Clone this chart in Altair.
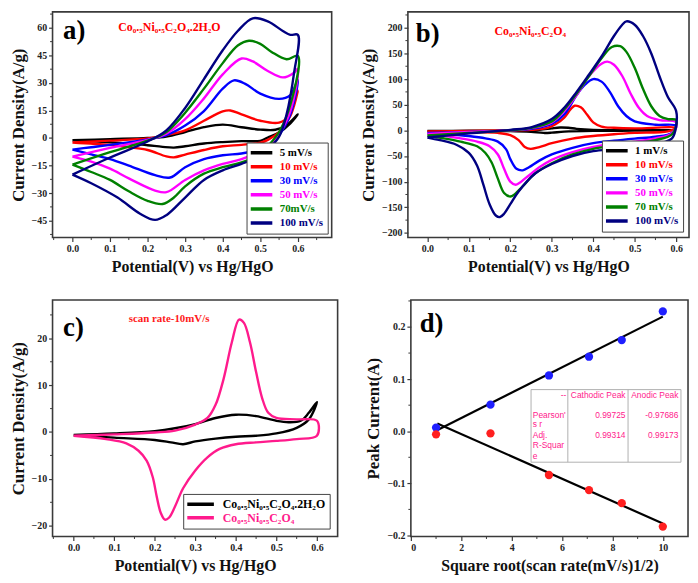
import altair as alt
import pandas as pd

SERIF = "Liberation Serif"
SANS = "Liberation Sans"
FRAME = "#3a3a3a"
PINK = "#ff1a8c"

# ---------------- Panel a : Co0.5Ni0.5C2O4.2H2O ----------------
A_LABELS = ["5 mV/s", "10 mV/s", "30 mV/s", "50 mV/s", "70mV/s", "100 mV/s"]
A_COLORS = ["#000000", "#ff0000", "#0000ff", "#ff00ff", "#008000", "#000080"]

A5_V = [0.00, 0.10, 0.20, 0.25, 0.30, 0.35, 0.40, 0.45, 0.50, 0.54, 0.57, 0.60,
        0.58, 0.55, 0.52, 0.50, 0.45, 0.40, 0.35, 0.30, 0.27, 0.24, 0.20, 0.15, 0.10, 0.00]
A5_I = [-1.2, -0.6, 0.0, 0.8, 3.3, 5.9, 7.3, 5.9, 4.6, 4.5, 7.0, 12.9,
        8.0, 3.0, 0.3, -1.5, -1.7, -2.2, -3.0, -4.5, -5.2, -4.8, -3.9, -2.9, -2.3, -1.2]

A10_V = [0.00, 0.10, 0.20, 0.25, 0.30, 0.35, 0.40, 0.42, 0.45, 0.50, 0.55, 0.58, 0.60,
         0.58, 0.55, 0.52, 0.50, 0.45, 0.40, 0.35, 0.30, 0.27, 0.25, 0.20, 0.15, 0.10, 0.00]
A10_I = [-2.4, -1.4, -0.2, 1.6, 4.2, 9.4, 14.5, 15.0, 12.9, 9.4, 8.4, 12.9, 25.8,
         12.0, 3.3, -1.0, -2.5, -3.7, -4.5, -6.5, -9.0, -10.5, -10.0, -6.5, -5.0, -3.8, -2.4]

A30_V = [0.00, 0.05, 0.10, 0.20, 0.25, 0.30, 0.35, 0.40, 0.43, 0.46, 0.50, 0.55, 0.58, 0.60,
         0.58, 0.55, 0.52, 0.50, 0.45, 0.40, 0.35, 0.30, 0.26, 0.22, 0.15, 0.10, 0.05, 0.00]
A30_I = [-6.3, -5.0, -3.7, -0.7, 1.6, 6.8, 14.7, 26.9, 31.4, 29.5, 24.2, 21.3, 23.4, 31.7,
         12.9, 1.6, -4.5, -6.3, -8.4, -9.4, -11.5, -15.9, -21.5, -20.2, -15.0, -11.5, -8.9, -6.3]

A50_V = [0.00, 0.10, 0.20, 0.25, 0.30, 0.35, 0.40, 0.45, 0.48, 0.52, 0.56, 0.59, 0.60,
         0.58, 0.55, 0.52, 0.50, 0.45, 0.40, 0.35, 0.30, 0.25, 0.22, 0.15, 0.10, 0.05, 0.00]
A50_I = [-10.1, -5.4, -1.0, 2.4, 10.3, 21.6, 34.7, 43.3, 41.7, 36.5, 33.0, 35.6, 37.7,
         14.7, 2.4, -4.5, -7.2, -11.5, -14.1, -17.6, -22.8, -29.5, -28.6, -22.0, -16.7, -12.9, -10.1]

A70_V = [0.00, 0.10, 0.20, 0.25, 0.30, 0.35, 0.40, 0.44, 0.47, 0.50, 0.53, 0.57, 0.60,
         0.58, 0.55, 0.52, 0.50, 0.45, 0.40, 0.35, 0.30, 0.27, 0.24, 0.20, 0.15, 0.10, 0.05, 0.00]
A70_I = [-14.5, -7.7, -1.4, 3.3, 13.8, 26.9, 40.8, 50.4, 53.0, 51.3, 46.9, 42.9, 44.7,
         18.1, 3.3, -4.5, -8.9, -13.3, -15.9, -19.4, -26.3, -32.4, -35.9, -34.2, -29.0, -22.8, -18.5, -14.5]

A100_V = [0.00, 0.10, 0.20, 0.25, 0.30, 0.35, 0.40, 0.44, 0.48, 0.52, 0.56, 0.58, 0.60,
          0.59, 0.57, 0.55, 0.52, 0.50, 0.45, 0.40, 0.35, 0.30, 0.25, 0.22, 0.18, 0.12, 0.05, 0.00]
A100_I = [-19.9, -10.6, -1.9, 4.2, 16.4, 32.1, 47.8, 58.3, 65.2, 63.5, 58.3, 56.2, 56.2,
          35.6, 12.9, 0.7, -6.3, -9.8, -14.1, -17.6, -22.8, -32.4, -42.0, -44.6, -41.2, -32.4, -24.6, -19.9]

# ---------------- Panel b : Co0.5Ni0.5C2O4 ----------------
B_LABELS = ["1 mV/s", "10 mV/s", "30 mV/s", "50 mV/s", "70 mV/s", "100 mV/s"]
B_COLORS = ["#000000", "#ff0000", "#0000ff", "#ff00ff", "#008000", "#000080"]

B1_V = [0.00, 0.10, 0.20, 0.27, 0.30, 0.32, 0.34, 0.36, 0.40, 0.50, 0.60,
        0.50, 0.40, 0.33, 0.30, 0.28, 0.25, 0.20, 0.10, 0.00]
B1_I = [-1.0, -0.8, -0.5, 1.0, 4.0, 5.5, 5.0, 3.0, 1.0, 0.5, 0.5,
        -0.5, -1.0, -2.5, -4.5, -5.0, -3.0, -1.5, -1.0, -1.0]

B10_V = [0.00, 0.10, 0.20, 0.25, 0.29, 0.31, 0.33, 0.345, 0.355, 0.37, 0.385, 0.40, 0.42, 0.45, 0.50, 0.60,
         0.58, 0.50, 0.45, 0.40, 0.35, 0.30, 0.27, 0.249, 0.235, 0.22, 0.20, 0.17, 0.10, 0.00]
B10_I = [-2.0, -1.0, 0.0, 1.0, 5.0, 12.5, 25.0, 40.6, 48.0, 45.0, 31.0, 15.6, 7.5, 5.0, 3.8, 5.0,
         -2.0, -5.0, -7.5, -11.0, -16.0, -25.0, -32.5, -36.0, -32.5, -19.0, -9.4, -5.0, -3.0, -2.0]

B30_V = [0.00, 0.10, 0.20, 0.25, 0.30, 0.33, 0.36, 0.38, 0.40, 0.42, 0.44, 0.46, 0.48, 0.50, 0.55, 0.60,
         0.59, 0.55, 0.50, 0.45, 0.40, 0.35, 0.30, 0.27, 0.245, 0.23, 0.215, 0.20, 0.19, 0.17, 0.14, 0.10, 0.05, 0.00]
B30_I = [-5.0, -3.0, 0.0, 3.0, 12.5, 31.0, 69.0, 89.0, 100.0, 95.0, 75.0, 47.0, 28.0, 17.5, 11.0, 9.0,
         -5.0, -12.5, -16.0, -20.0, -25.0, -34.0, -47.0, -59.0, -72.0, -78.0, -75.0, -56.0, -37.0, -22.0, -15.6, -11.0, -7.5, -5.0]

B50_V = [0.00, 0.10, 0.20, 0.25, 0.30, 0.33, 0.36, 0.39, 0.42, 0.434, 0.45, 0.47, 0.49, 0.51, 0.53, 0.56, 0.60,
         0.59, 0.55, 0.50, 0.45, 0.40, 0.35, 0.30, 0.27, 0.24, 0.213, 0.20, 0.185, 0.17, 0.15, 0.12, 0.08, 0.04, 0.00]
B50_I = [-7.0, -3.0, 0.0, 4.4, 15.6, 37.5, 69.0, 106.0, 130.0, 134.0, 128.0, 106.0, 72.0, 44.0, 28.0, 20.0, 15.6,
         -6.0, -15.6, -22.0, -26.0, -32.5, -42.5, -57.5, -72.0, -91.0, -106.0, -100.0, -75.0, -47.0, -31.0, -22.0, -15.6, -10.6, -7.0]

B70_V = [0.00, 0.10, 0.20, 0.25, 0.30, 0.33, 0.36, 0.39, 0.42, 0.445, 0.465, 0.48, 0.50, 0.52, 0.54, 0.56, 0.58, 0.60,
         0.59, 0.55, 0.50, 0.45, 0.40, 0.35, 0.30, 0.26, 0.23, 0.21, 0.20, 0.185, 0.17, 0.155, 0.14, 0.12, 0.08, 0.04, 0.00]
B70_I = [-10.0, -5.0, 0.0, 5.0, 17.5, 40.6, 72.0, 106.0, 140.6, 162.5, 164.0, 153.0, 122.0, 81.0, 47.0, 28.0, 22.0, 20.0,
         -7.5, -19.0, -25.0, -30.0, -36.0, -47.0, -64.0, -84.0, -109.0, -125.0, -129.0, -122.0, -94.0, -62.5, -44.0, -31.0, -22.0, -15.6, -10.0]

B100_V = [0.00, 0.10, 0.20, 0.25, 0.30, 0.33, 0.36, 0.39, 0.42, 0.45, 0.47, 0.48, 0.50, 0.52, 0.54, 0.56, 0.58, 0.60,
          0.598, 0.59, 0.55, 0.50, 0.45, 0.40, 0.35, 0.30, 0.26, 0.22, 0.20, 0.185, 0.175, 0.165, 0.15, 0.135, 0.12, 0.10, 0.07, 0.03, 0.00]
B100_I = [-14.0, -6.0, 1.0, 6.0, 22.0, 44.0, 75.0, 109.0, 144.0, 184.0, 206.0, 212.5, 206.0, 184.0, 150.0, 105.0, 65.0, 37.5,
          0.0, -15.6, -28.0, -31.0, -36.0, -40.6, -50.0, -65.6, -84.0, -119.0, -144.0, -162.5, -169.0, -166.0, -144.0, -106.0, -69.0, -44.0, -28.0, -19.0, -14.0]

# ---------------- Panel c : comparison at 10 mV/s ----------------
C_LABELS = ["Co\u2080.\u2085Ni\u2080.\u2085C\u2082O\u2084.2H\u2082O", "Co\u2080.\u2085Ni\u2080.\u2085C\u2082O\u2084"]
C_COLORS = ["#000000", PINK]

CH_V = [0.00, 0.10, 0.20, 0.25, 0.30, 0.35, 0.40, 0.45, 0.50, 0.53, 0.56, 0.58, 0.60,
        0.58, 0.55, 0.50, 0.45, 0.40, 0.35, 0.30, 0.27, 0.24, 0.20, 0.10, 0.00]
CH_I = [-0.6, -0.3, 0.2, 0.8, 1.7, 3.0, 3.7, 3.4, 2.4, 2.1, 2.4, 4.1, 6.4,
        2.7, 0.9, -0.3, -0.8, -1.0, -1.4, -2.0, -2.6, -2.2, -1.7, -1.2, -0.7]

CA_V = [0.00, 0.10, 0.20, 0.25, 0.30, 0.33, 0.35, 0.37, 0.39, 0.408, 0.42, 0.435, 0.45, 0.465, 0.48, 0.50, 0.55, 0.60,
        0.60, 0.55, 0.50, 0.45, 0.40, 0.36, 0.33, 0.30, 0.27, 0.25, 0.235, 0.225, 0.215, 0.205, 0.195, 0.18, 0.16, 0.13, 0.08, 0.00]
CA_I = [-0.8, -0.5, -0.1, 0.3, 1.6, 3.0, 5.8, 11.4, 19.1, 24.0, 23.3, 19.1, 12.8, 7.2, 4.1, 3.0, 2.7, 2.4,
        -0.8, -1.5, -1.9, -2.2, -2.6, -3.6, -5.4, -8.2, -12.0, -15.9, -18.3, -18.7, -17.3, -13.8, -9.6, -6.1, -4.0, -2.4, -1.5, -0.8]

# ---------------- Panel d : peak current vs sqrt(scan rate) ----------------
D_X = [1.0, 3.16, 5.48, 7.07, 8.37, 10.0]
D_BLUE = [0.007, 0.051, 0.107, 0.143, 0.175, 0.230]
D_RED = [-0.006, -0.004, -0.084, -0.113, -0.138, -0.183]
FIT_BLUE_X = [1.0, 10.0]
FIT_BLUE_Y = [0.001, 0.220]
FIT_RED_X = [1.05, 10.0]
FIT_RED_Y = [0.015, -0.177]

TABLE_HEADER = ["--", "Cathodic Peak", "Anodic Peak"]
TABLE_ROW_NAMES = [["Pearson'", "s r"], ["Adj.", "R-Squar", "e"]]
TABLE_VALUES = [["0.99725", "-0.97686"], ["0.99314", "0.99173"]]

# tick values (major / minor)
V_TICKS = [0, 0.1, 0.2, 0.3, 0.4, 0.5, 0.6]
A_Y_TICKS = [-45, -30, -15, 0, 15, 30, 45, 60]
B_Y_TICKS = [-200, -150, -100, -50, 0, 50, 100, 150, 200]
C_Y_TICKS = [-20, -10, 0, 10, 20]
D_X_TICKS = [0, 2, 4, 6, 8, 10]
D_Y_TICKS = [-0.2, -0.1, 0.0, 0.1, 0.2]
A_X_MINOR = [-0.05, 0.05, 0.15, 0.25, 0.35, 0.45, 0.55, 0.65]
A_Y_MINOR = [-52.5, -37.5, -22.5, -7.5, 7.5, 22.5, 37.5, 52.5, 67.5]
B_X_MINOR = [0.05, 0.15, 0.25, 0.35, 0.45, 0.55]
B_Y_MINOR = [-175, -125, -75, -25, 25, 75, 125, 175, 225]
C_X_MINOR = [-0.05, 0.05, 0.15, 0.25, 0.35, 0.45, 0.55]
C_Y_MINOR = [-15, -5, 5, 15, 25]
D_X_MINOR = [1, 3, 5, 7, 9]
D_Y_MINOR = [-0.15, -0.05, 0.05, 0.15, 0.25]

LEGEND_LINE = "M-3,0H3"   # long, flat legend swatch


def axis(title, values, fmt, title_pad, title_size=16):
    return alt.Axis(title=title, values=values, tickCount=len(values) + 2, format=fmt,
                    grid=False, domain=False,
                    tickColor=FRAME, tickSize=4, tickWidth=1.2, labelOverlap=False,
                    labelFont=SERIF, labelFontWeight="bold", labelFontSize=10,
                    labelColor="#222222", labelPadding=2,
                    titleFont=SERIF, titleFontWeight="bold", titleFontSize=title_size,
                    titleColor="#111111", titlePadding=title_pad)


def minor_ticks(xf, yf, xvals, yvals, h):
    mx = alt.Chart(pd.DataFrame({xf: xvals})).mark_rule(color=FRAME, strokeWidth=1).encode(
        x=f"{xf}:Q", y=alt.value(h), y2=alt.value(h + 2.5))
    my = alt.Chart(pd.DataFrame({yf: yvals})).mark_rule(color=FRAME, strokeWidth=1).encode(
        y=f"{yf}:Q", x=alt.value(0), x2=alt.value(-2.5))
    return [mx, my]


def color_expr(labels, colors):
    ls = ",".join("'%s'" % s for s in labels)
    cs = ",".join("'%s'" % c for c in colors)
    return "[%s][indexof([%s], datum.label)]" % (cs, ls)


def cv_panel(field, curves, labels, colors, xdom, ydom, yvals, xminor, yminor, w, h,
             leg_offset, leg_font, leg, notes, ytitle):
    sym_size, sym_off, lab_off, clip_h, row_pad = leg
    rows = []
    for lab, (vs, cs) in zip(labels, curves):
        for k, (v, c) in enumerate(zip(vs, cs)):
            rows.append({"V": v, "I": c, field: lab, "k": k})
    df = pd.DataFrame(rows)
    xs = alt.Scale(domain=xdom, nice=False, zero=False)
    ys = alt.Scale(domain=ydom, nice=False, zero=False)
    lines = alt.Chart(df).mark_line(strokeWidth=2.4, interpolate="catmull-rom").encode(
        x=alt.X("V:Q", scale=xs, axis=axis("Potential(V) vs Hg/HgO", V_TICKS, ".1f", 5)),
        y=alt.Y("I:Q", scale=ys, axis=axis(ytitle, yvals, "d", 4, 17)),
        color=alt.Color(f"{field}:N", scale=alt.Scale(domain=labels, range=colors),
                        legend=alt.Legend(title=None, orient="bottom-right", offset=leg_offset,
                                          strokeColor="#444444", fillColor="white", padding=4,
                                          symbolType=LEGEND_LINE, symbolStrokeWidth=3.5,
                                          symbolSize=sym_size, symbolOffset=sym_off,
                                          clipHeight=clip_h, rowPadding=row_pad,
                                          labelFont=SERIF, labelFontWeight="bold",
                                          labelFontSize=leg_font, labelOffset=lab_off,
                                          labelLimit=300,
                                          labelColor=alt.ExprRef(color_expr(labels, colors)))),
        order="k:Q",
    )
    layers = [lines] + minor_ticks("V", "I", xminor, yminor, h)
    for (nv, ni, txt, size, col) in notes:
        layers.append(alt.Chart(pd.DataFrame({"V": [nv], "I": [ni], "t": [txt]})).mark_text(
            align="left", baseline="middle", font=SERIF, fontWeight="bold",
            fontSize=size, color=col).encode(x="V:Q", y="I:Q", text="t:N"))
    return alt.layer(*layers).properties(width=w, height=h)


pa = cv_panel("rate_a", [(A5_V, A5_I), (A10_V, A10_I), (A30_V, A30_I), (A50_V, A50_I),
                         (A70_V, A70_I), (A100_V, A100_I)],
              A_LABELS, A_COLORS, [-0.053, 0.69], [-54.2, 68.7], A_Y_TICKS,
              A_X_MINOR, A_Y_MINOR, 282, 228, 4, 11, (54, 5.5, 13, 12.5, 1.2),
              [(-0.025, 58, "a)", 27, "black"),
               (0.122, 60.5, "Co\u2080.\u2085Ni\u2080.\u2085C\u2082O\u2084.2H\u2082O", 12, "#ff0000")],
              "Current Density(A/g)")

pb = cv_panel("rate_b", [(B1_V, B1_I), (B10_V, B10_I), (B30_V, B30_I), (B50_V, B50_I),
                         (B70_V, B70_I), (B100_V, B100_I)],
              B_LABELS, B_COLORS, [-0.047, 0.631], [-209, 231], B_Y_TICKS,
              B_X_MINOR, B_Y_MINOR, 284, 228, 6, 11, (54, 5.5, 13, 12.5, 1.2),
              [(-0.028, 187, "b)", 27, "black"),
               (0.162, 194, "Co\u2080.\u2085Ni\u2080.\u2085C\u2082O\u2084", 12, "#ff0000")],
              "Current Density(A/g)")

pc = cv_panel("mat", [(CH_V, CH_I), (CA_V, CA_I)],
              C_LABELS, C_COLORS, [-0.052, 0.651], [-22.3, 28.2], C_Y_TICKS,
              C_X_MINOR, C_Y_MINOR, 288, 239, 8, 12, (81, 7, 16, 13, 0.5),
              [(-0.026, 22.2, "c)", 27, "black"),
               (0.136, 24.2, "scan rate-10mV/s", 11, "#ff1a1a")],
              "Current Density(A/g)")

# ----- panel d -----
D_H = 239
dxs = alt.Scale(domain=[0, 11], nice=False, zero=False)
dys = alt.Scale(domain=[-0.202, 0.252], nice=False, zero=False)
d_x_axis = axis("Square root(scan rate(mV/s)1/2)", D_X_TICKS, "d", 5)
d_y_axis = axis("Peak Current(A)", D_Y_TICKS, ".1f", 4, 17)

fit_df = pd.DataFrame({"X": FIT_BLUE_X + FIT_RED_X, "Y": FIT_BLUE_Y + FIT_RED_Y,
                       "g": ["blue", "blue", "red", "red"]})
fits = alt.Chart(fit_df).mark_line(color="black", strokeWidth=2.2).encode(
    x=alt.X("X:Q", scale=dxs, axis=d_x_axis), y=alt.Y("Y:Q", scale=dys, axis=d_y_axis),
    detail="g:N")
blue_pts = alt.Chart(pd.DataFrame({"X": D_X, "Y": D_BLUE})).mark_circle(
    color="#1f1fff", opacity=1, size=70).encode(x="X:Q", y="Y:Q")
red_pts = alt.Chart(pd.DataFrame({"X": D_X, "Y": D_RED})).mark_circle(
    color="#ff1f1f", opacity=1, size=70).encode(x="X:Q", y="Y:Q")

# table geometry (data units of panel d)
TX = [4.77, 6.23, 8.62, 10.72]
TY = [0.0799, -0.0594]
vlines = pd.DataFrame({"X": TX, "X2": TX, "Y": [TY[0]] * 4, "Y2": [TY[1]] * 4})
hlines = pd.DataFrame({"X": [TX[0], TX[0]], "X2": [TX[-1], TX[-1]], "Y": TY, "Y2": TY})
tlines = alt.Chart(pd.concat([vlines, hlines])).mark_rule(color="#b0b0b0", strokeWidth=1).encode(
    x="X:Q", x2="X2:Q", y="Y:Q", y2="Y2:Q")

head_y = 0.0687
row_y = [[0.0303, 0.013], [-0.0068, -0.0266, -0.047]]
t_rows = []
t_rows.append({"X": 6.17, "Y": head_y, "t": TABLE_HEADER[0], "a": "right"})
t_rows.append({"X": 8.52, "Y": head_y, "t": TABLE_HEADER[1], "a": "right"})
t_rows.append({"X": 10.62, "Y": head_y, "t": TABLE_HEADER[2], "a": "right"})
for r in range(2):
    for j, name in enumerate(TABLE_ROW_NAMES[r]):
        t_rows.append({"X": 4.84, "Y": row_y[r][j], "t": name, "a": "left"})
    t_rows.append({"X": 8.52, "Y": row_y[r][0], "t": TABLE_VALUES[r][0], "a": "right"})
    t_rows.append({"X": 10.62, "Y": row_y[r][0], "t": TABLE_VALUES[r][1], "a": "right"})
tdf = pd.DataFrame(t_rows)
t_left = alt.Chart(tdf[tdf.a == "left"]).mark_text(
    align="left", baseline="middle", font=SANS, fontSize=8.5, color=PINK).encode(
    x="X:Q", y="Y:Q", text="t:N")
t_right = alt.Chart(tdf[tdf.a == "right"]).mark_text(
    align="right", baseline="middle", font=SANS, fontSize=8.5, color=PINK).encode(
    x="X:Q", y="Y:Q", text="t:N")
d_label = alt.Chart(pd.DataFrame({"X": [0.35], "Y": [0.205], "t": ["d)"]})).mark_text(
    align="left", baseline="middle", font=SERIF, fontWeight="bold", fontSize=27,
    color="black").encode(x="X:Q", y="Y:Q", text="t:N")

pd_ = alt.layer(fits, blue_pts, red_pts, tlines, t_left, t_right, d_label,
                *minor_ticks("X", "Y", D_X_MINOR, D_Y_MINOR, D_H)).properties(width=280, height=D_H)

row1 = alt.hconcat(pa, pb, spacing=26).resolve_scale(color="independent").resolve_legend(color="independent")
row2 = alt.hconcat(pc, pd_, spacing=26).resolve_scale(color="independent").resolve_legend(color="independent")
chart = alt.vconcat(row1, row2, spacing=24).resolve_scale(color="independent").resolve_legend(
    color="independent").properties(padding=0).configure_view(stroke=FRAME, strokeWidth=1.6)

chart.save("out.html", embed_options={"renderer": "svg", "actions": False})
